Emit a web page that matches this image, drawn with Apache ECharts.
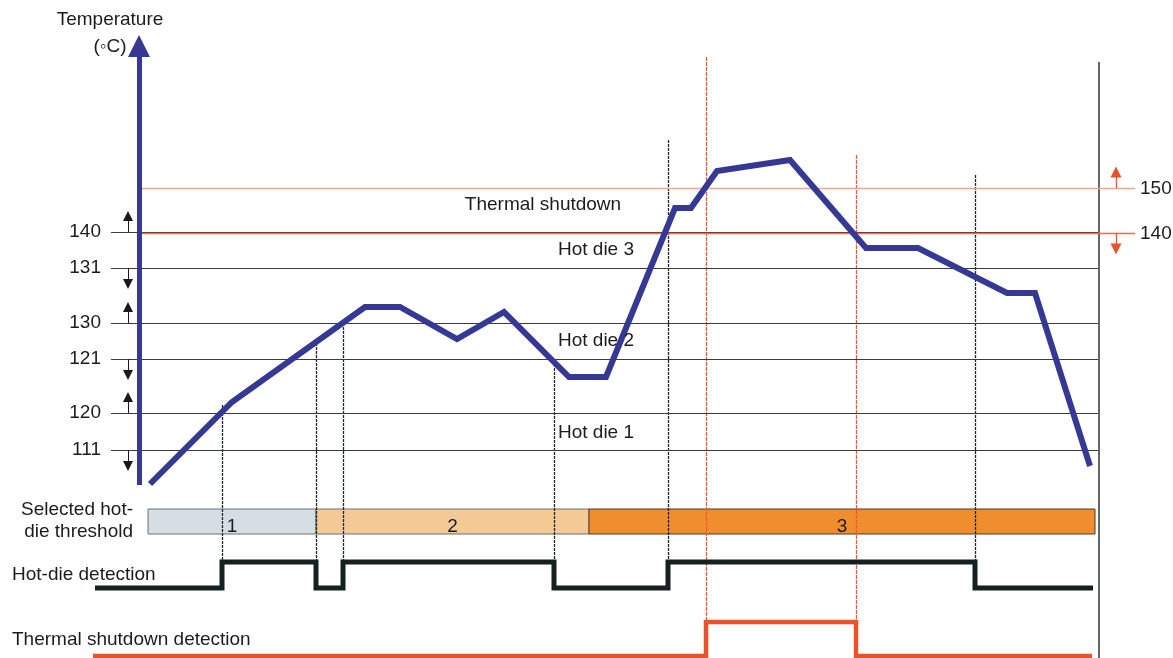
<!DOCTYPE html>
<html>
<head>
<meta charset="utf-8">
<script src="https://cdn.jsdelivr.net/npm/echarts@6/dist/echarts.min.js"></script>
<style>
html,body{margin:0;padding:0;background:#fff;}
#c{width:1173px;height:658px;}
</style>
</head>
<body>
<div id="c"></div>
<script>
// ---- Data (schematic: x = time units, y = diagram level, top-down) ----
const tempTime  = [150, 232, 365, 400, 457, 504, 569, 606, 675, 691, 717, 790, 866, 918, 1007, 1035, 1090];
const tempLevel = [484, 402, 307, 307, 339, 312, 377, 377, 208, 208, 171, 160, 248, 248, 293, 293, 466];

const thresholdLabels = ['140', '131', '130', '121', '120', '111'];
const thresholdLevels = [232, 268, 323, 359, 413, 450];
const thresholdDir    = ['up', 'down', 'up', 'down', 'up', 'down'];

const shutdownLabels = ['150', '140'];
const shutdownLevels = [188, 233];
const shutdownDir    = ['up', 'down'];

const zoneNames  = ['Thermal shutdown', 'Hot die 3', 'Hot die 2', 'Hot die 1'];
const zoneLevels = [205, 250, 341, 433];

const hotDieMarkTimes = [222, 316, 343, 554, 668, 975];
const hotDieMarkTops  = [405, 343, 323, 360, 140, 175];
const shutdownMarkTimes = [706, 856];
const shutdownMarkTops  = [57, 155];

const thresholdSegStart = [148, 316, 589];
const thresholdSegEnd   = [316, 589, 1095];
const thresholdSegLabel = ['1', '2', '3'];

const hotDieEdges  = [95, 222, 316, 343, 554, 668, 975, 1093];
const hotDieStates = [0, 1, 0, 1, 0, 1, 0, 0];
const shutdownEdges  = [93, 706, 856, 1092];
const shutdownStates = [0, 1, 0, 0];

// ---- Layout constants (diagram levels) ----
const axisX = 139, axisBottom = 485, axisTop = 35;
const lineLeft = 111, lineRight = 1098, redRight = 1135;
const barTop = 509, barBottom = 534;
const hdHigh = 562, hdLow = 588;
const tsHigh = 622, tsLow = 656;
const endLineX = 1099;

const TXT = '#1c1c1c';
const FONT = 'Liberation Sans, Arial, sans-serif';
const FS = 19;
const BLUE = '#353993';
const RED = '#ea5329';
const SALMON = '#f3a48f';

function stepPoints(edges, states, hi, lo) {
  const pts = [];
  for (let i = 0; i < edges.length; i++) {
    const y = states[i] ? hi : lo;
    if (i > 0) pts.push([edges[i], states[i - 1] ? hi : lo]);
    pts.push([edges[i], y]);
  }
  return pts;
}

const series = [];

// threshold lines
series.push({
  type: 'lines', coordinateSystem: 'cartesian2d', silent: true, z: 2,
  lineStyle: { color: '#3b3b3b', width: 1.2, opacity: 1 },
  data: thresholdLevels.map(y => ({ coords: [[lineLeft, y], [lineRight, y]] }))
});
// shutdown threshold lines
series.push({
  type: 'lines', coordinateSystem: 'cartesian2d', silent: true, z: 2,
  data: [
    { coords: [[142, shutdownLevels[0]], [redRight, shutdownLevels[0]]], lineStyle: { color: SALMON, width: 1.3, opacity: 1 } },
    { coords: [[142, shutdownLevels[1]], [redRight, shutdownLevels[1]]], lineStyle: { color: '#ee6a4a', width: 1.3, opacity: 1 } }
  ]
});
// small threshold arrows (left)
series.push({
  type: 'lines', coordinateSystem: 'cartesian2d', silent: true, z: 3,
  symbol: ['none', 'triangle'], symbolSize: [7, 10],
  lineStyle: { color: '#1a1a1a', width: 1, opacity: 1 },
  data: thresholdLevels.map((y, i) => ({ coords: [[128, y], [128, thresholdDir[i] === 'up' ? y - 16 : y + 16]] }))
});
// small shutdown arrows (right)
series.push({
  type: 'lines', coordinateSystem: 'cartesian2d', silent: true, z: 3,
  symbol: ['none', 'triangle'], symbolSize: [8, 11],
  lineStyle: { color: RED, width: 1.3, opacity: 1 },
  data: shutdownLevels.map((y, i) => ({ coords: [[1116, y], [1116, shutdownDir[i] === 'up' ? y - 16 : y + 16]] }))
});
// vertical dashed markers
series.push({
  type: 'lines', coordinateSystem: 'cartesian2d', silent: true, z: 1,
  lineStyle: { color: '#1e2a2a', width: 1.3, type: [3, 1], opacity: 1 },
  data: hotDieMarkTimes.map((x, i) => ({ coords: [[x, hotDieMarkTops[i]], [x, hdHigh]] }))
});
series.push({
  type: 'lines', coordinateSystem: 'cartesian2d', silent: true, z: 1,
  lineStyle: { color: '#ee5a35', width: 1.3, type: [4, 1], opacity: 1 },
  data: shutdownMarkTimes.map((x, i) => ({ coords: [[x, shutdownMarkTops[i]], [x, tsHigh]] }))
});
// right end line
series.push({
  type: 'lines', coordinateSystem: 'cartesian2d', silent: true, z: 1,
  lineStyle: { color: '#2f3535', width: 1.5, opacity: 1 },
  data: [{ coords: [[endLineX, 62], [endLineX, 658]] }]
});
// y axis arrow
series.push({
  type: 'lines', coordinateSystem: 'cartesian2d', silent: true, z: 4,
  symbol: ['none', 'triangle'], symbolSize: [13, 22],
  lineStyle: { color: BLUE, width: 5, opacity: 1 },
  data: [{ coords: [[axisX, axisBottom], [axisX, axisTop + 11]] }]
});
// temperature curve
series.push({
  type: 'line', silent: true, z: 5, showSymbol: false, symbol: 'none',
  lineStyle: { color: BLUE, width: 6, join: 'miter', cap: 'butt' },
  data: tempTime.map((t, i) => [t, tempLevel[i]])
});
// hot-die detection
series.push({
  type: 'line', silent: true, z: 5, symbol: 'none',
  lineStyle: { color: '#152020', width: 5, join: 'miter' },
  data: stepPoints(hotDieEdges, hotDieStates, hdHigh, hdLow)
});
// thermal shutdown detection
series.push({
  type: 'line', silent: true, z: 5, symbol: 'none',
  lineStyle: { color: RED, width: 4.5, join: 'miter' },
  data: stepPoints(shutdownEdges, shutdownStates, tsHigh, tsLow)
});
// selected hot-die threshold bar
const segColors = ['#d6dee3', '#f3c996', '#ef8d2f'];
series.push({
  type: 'custom', silent: true, z: 0,
  data: thresholdSegStart.map((s, i) => [s, thresholdSegEnd[i], i]),
  renderItem: function (params, api) {
    const p0 = api.coord([api.value(0), barTop]);
    const p1 = api.coord([api.value(1), barBottom]);
    const i = api.value(2);
    const lab = api.coord([0, 527]);
    return {
      type: 'group',
      children: [
        { type: 'rect', shape: { x: p0[0], y: p0[1], width: p1[0] - p0[0], height: p1[1] - p0[1] },
          style: { fill: segColors[i], stroke: i === 2 ? '#4a3a2a' : '#6b7070', lineWidth: 1 } },
        { type: 'text', style: { text: thresholdSegLabel[i], x: (p0[0] + p1[0]) / 2, y: lab[1],
          fill: TXT, font: FS + 'px ' + FONT, align: 'center', verticalAlign: 'middle' } }
      ]
    };
  }
});
// text annotations (positioned through scales)
function textSeries(items, align) {
  return {
    type: 'scatter', silent: true, symbolSize: 0, z: 6,
    itemStyle: { opacity: 1 },
    label: { show: true, position: 'inside', formatter: p => p.data[2], color: TXT, opacity: 1,
      textBorderWidth: 0, fontFamily: FONT, fontSize: FS, align: align, verticalAlign: 'middle' },
    data: items
  };
}
series.push(textSeries(thresholdLabels.map((l, i) => [101, thresholdLevels[i], l]), 'right'));
series.push(textSeries(shutdownLabels.map((l, i) => [1140, shutdownLevels[i] + 1, l]), 'left'));
series.push(textSeries(zoneNames.map((n, i) => [i === 0 ? 543 : 596, zoneLevels[i], n]), 'center'));
series.push(textSeries([
  [110, 20, 'Temperature'],
  [110, 47, '(\u25E6C)']
], 'center'));
series.push(textSeries([
  [133, 510, 'Selected hot-'],
  [133, 532, 'die threshold']
], 'right'));
series.push(textSeries([
  [12, 575, 'Hot-die detection'],
  [12, 640, 'Thermal shutdown detection']
], 'left'));

const chart = echarts.init(document.getElementById('c'), null, { renderer: 'canvas' });
chart.setOption({
  animation: false,
  backgroundColor: '#ffffff',
  grid: { left: 0, right: 0, top: 0, bottom: 0, containLabel: false },
  xAxis: { type: 'value', min: 0, max: 1173, show: false },
  yAxis: { type: 'value', min: 0, max: 658, inverse: true, show: false },
  series: series
});
</script>
</body>
</html>
